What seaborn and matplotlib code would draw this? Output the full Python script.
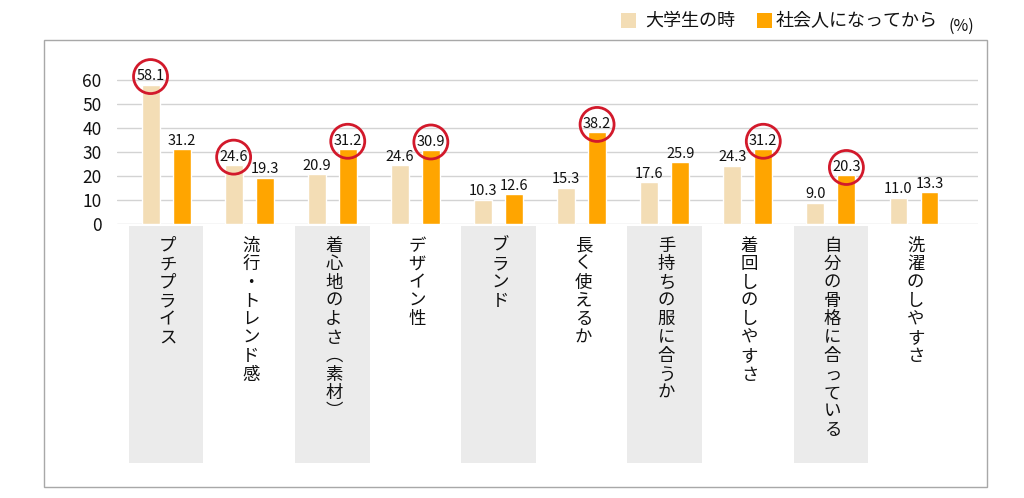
import seaborn as sns
import pandas as pd
import matplotlib.pyplot as plt
from matplotlib.patches import Rectangle, Circle

# data
categories = ["プチプライス", "流行・トレンド感", "着心地のよさ（素材）", "デザイン性", "ブランド",
              "長く使えるか", "手持ちの服に合うか", "着回しのしやすさ", "自分の骨格に合っている", "洗濯のしやすさ"]
series = ["大学生の時", "社会人になってから"]
student = [58.1, 24.6, 20.9, 24.6, 10.3, 15.3, 17.6, 24.3, 9.0, 11.0]
worker = [31.2, 19.3, 31.2, 30.9, 12.6, 38.2, 25.9, 31.2, 20.3, 13.3]
# (category index, series index) of the circled values
circled = [(0, 0), (1, 0), (2, 1), (3, 1), (5, 1), (7, 1), (8, 1)]
yticks = [0, 10, 20, 30, 40, 50, 60]

colors = ["#F3DDB5", "#FFA500"]

df = pd.DataFrame({
    "category": categories * 2,
    "series": [series[0]] * len(categories) + [series[1]] * len(categories),
    "value": student + worker,
})

sns.set_theme(style="white")
plt.rcParams["font.family"] = ["Noto Sans CJK JP", "DejaVu Sans"]

W, H = 1024, 498
fig = plt.figure(figsize=(W / 100, H / 100), dpi=100)

def fx(px):
    return px / W

def fy(py):
    return (H - py) / H

# main bar axes
ax = fig.add_axes([fx(117), fy(224.3), fx(978) - fx(117), fy(224.3 - 64 * 2.405) - fy(224.3)])
sns.barplot(data=df, x="category", y="value", hue="series", order=categories,
            hue_order=series, palette=colors, width=0.746, gap=0.42,
            saturation=1, legend=False, ax=ax)
ax.set_xlim(-0.59, 9.77)
ax.set_ylim(0, 64)
ax.set_yticks(yticks)
ax.set_xticks([])
ax.set_xlabel("")
ax.set_ylabel("")
ax.tick_params(axis="y", length=0, pad=11, labelsize=12.5, labelcolor="#111111")
ax.yaxis.grid(True, color="#d3d3d3", lw=1)
ax.set_axisbelow(True)
for s in ax.spines.values():
    s.set_visible(False)

# value labels + red circles
for si, cont in enumerate(ax.containers):
    for ci, bar in enumerate(cont):
        x = bar.get_x() + bar.get_width() / 2
        h = bar.get_height()
        ax.annotate(f"{h:.1f}", (x, h), xytext=(0, 1), textcoords="offset points",
                    ha="center", va="bottom", fontsize=10.5, color="#111111")
        if (ci, si) in circled:
            # circle centred on the label, in pixel space
            px, py = ax.transData.transform((x, h))
            circ = Circle((px, py + 8), 17, transform=None, fill=False,
                          edgecolor="#D2192B", lw=2, clip_on=False, zorder=5)
            fig.patches.append(circ)

# category label area with alternating grey bands
lab = fig.add_axes([fx(117), fy(463), fx(978) - fx(117), fy(226) - fy(463)])
lab.set_xlim(-0.59, 9.77)
lab.set_ylim(0, 1)
lab.axis("off")
vert = {"（": "︵", "）": "︶"}
for i, name in enumerate(categories):
    if i % 2 == 0:
        lab.axvspan(i - 0.45, i + 0.45, color="#EBEBEB", lw=0)
    txt = "\n".join(vert.get(c, c) for c in name)
    lab.text(i + 0.02, 0.955, txt, ha="center", va="top", fontsize=12.5,
             linespacing=1.03, color="#111111")

# outer frame
fig.patches.append(Rectangle((fx(44), fy(487)), fx(987) - fx(44), fy(40) - fy(487),
                             transform=fig.transFigure, fill=False,
                             edgecolor="#a8a8a8", lw=1))

# legend
for x0, tx, col, label in [(621, 645, colors[0], series[0]), (757, 776, colors[1], series[1])]:
    fig.patches.append(Rectangle((fx(x0), fy(28)), fx(15), fy(13) - fy(28),
                                 transform=fig.transFigure, color=col, lw=0))
    fig.text(fx(tx), fy(21), label, ha="left", va="center", fontsize=13, color="#111111")
fig.text(fx(949), fy(26), "(%)", ha="left", va="center", fontsize=11.5, color="#111111")

fig.savefig("out.png", dpi=100)
